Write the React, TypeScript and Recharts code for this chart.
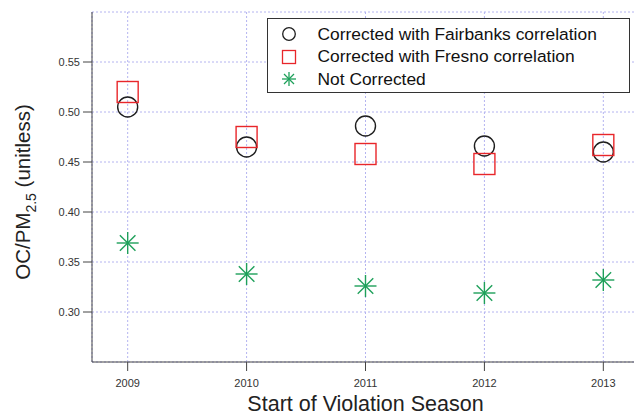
import React from 'react'
import { ScatterChart, Scatter, XAxis, YAxis, CartesianGrid, Legend } from 'recharts'

const years = [2009, 2010, 2011, 2012, 2013]
const fairbanks = [0.505, 0.465, 0.486, 0.466, 0.46]
const fresno = [0.52, 0.475, 0.458, 0.448, 0.467]
const notCorrected = [0.369, 0.338, 0.326, 0.319, 0.332]
const yTicks = [0.3, 0.35, 0.4, 0.45, 0.5, 0.55]

const FONT = '"Liberation Sans", Arial, sans-serif'
const BLACK = '#1e1e1e'
const RED = '#e8262a'
const GREEN = '#1ea05a'

const toPoints = (vals: number[]) => years.map((x, i) => ({ x, y: vals[i] }))

const Circle = (p: any) => (
  <circle cx={p.cx} cy={p.cy} r={10} fill="none" stroke={BLACK} strokeWidth={1.4} />
)
const Square = (p: any) => (
  <rect x={p.cx - 10.5} y={p.cy - 10.5} width={21} height={21} fill="none" stroke={RED} strokeWidth={1.4} />
)
const Star = (p: any) => {
  const r = 11, d = r * 0.707
  return (
    <g stroke={GREEN} strokeWidth={1.4}>
      <line x1={p.cx - r} y1={p.cy} x2={p.cx + r} y2={p.cy} />
      <line x1={p.cx} y1={p.cy - r} x2={p.cx} y2={p.cy + r} />
      <line x1={p.cx - d} y1={p.cy - d} x2={p.cx + d} y2={p.cy + d} />
      <line x1={p.cx - d} y1={p.cy + d} x2={p.cx + d} y2={p.cy - d} />
    </g>
  )
}

const legendRows = [
  { name: 'Corrected with Fairbanks correlation', icon: <circle cx={12} cy={12} r={6.3} fill="none" stroke={BLACK} strokeWidth={1.3} /> },
  { name: 'Corrected with Fresno correlation', icon: <rect x={5.5} y={5.5} width={13} height={13} fill="none" stroke={RED} strokeWidth={1.3} /> },
  {
    name: 'Not Corrected',
    icon: (
      <g stroke={GREEN} strokeWidth={1.3}>
        <line x1={5} y1={12} x2={19} y2={12} />
        <line x1={12} y1={5} x2={12} y2={19} />
        <line x1={7} y1={7} x2={17} y2={17} />
        <line x1={7} y1={17} x2={17} y2={7} />
      </g>
    ),
  },
]

const LegendBox = () => (
  <div style={{ border: '1.5px solid #333', background: '#fff', width: 363, height: 75, boxSizing: 'border-box', padding: '4px 0 0 8.5px', fontFamily: FONT, fontSize: 17.4, color: '#111' }}>
    {legendRows.map(r => (
      <div key={r.name} style={{ display: 'flex', alignItems: 'center', height: 22.5, whiteSpace: 'nowrap' }}>
        <svg width={24} height={24} style={{ marginRight: 17 }}>{r.icon}</svg>
        <span>{r.name}</span>
      </div>
    ))}
  </div>
)

const YLabel = () => (
  <text transform="translate(30,192) rotate(-90)" textAnchor="middle" fontFamily={FONT} fontSize={20.5} fill="#222">
    OC/PM<tspan fontSize={14} dy={6}>2.5</tspan><tspan dy={-6}> (unitless)</tspan>
  </text>
)

const XLabel = (p: any) => {
  const vb = p.viewBox || {}
  return (
    <text x={vb.x + vb.width / 2} y={411} textAnchor="middle" fontFamily={FONT} fontSize={21.5} fill="#222">
      Start of Violation Season
    </text>
  )
}

export default function App() {
  return (
    <div style={{ position: 'fixed', left: 0, top: 0, width: 634, height: 416, overflow: 'hidden', background: '#fff' }}>
      <ScatterChart width={640} height={416} margin={{ top: 12, right: 1, bottom: 0, left: 0 }}>
        <CartesianGrid stroke="#b4b4f0" strokeDasharray="2 2" />
        <XAxis
          type="number" dataKey="x" domain={[2008.7, 2013.3]} ticks={years} height={54}
          stroke="#444" tickSize={9} tickMargin={8} allowDecimals={false}
          tick={{ fontSize: 11, fontFamily: FONT, fill: '#333' }}
          label={<XLabel />}
        />
        <XAxis
          xAxisId="top" orientation="top" type="number" dataKey="x" domain={[2008.7, 2013.3]} ticks={years}
          height={0} stroke="#222" tickSize={8} tick={() => <g />}
        />
        <YAxis
          type="number" dataKey="y" domain={[0.25, 0.6]} ticks={yTicks} width={92}
          stroke="#444" tickSize={9} tickMargin={3}
          tickFormatter={(v: number) => v.toFixed(2)}
          tick={{ fontSize: 11, fontFamily: FONT, fill: '#333' }}
          label={<YLabel />}
        />
        <Legend
          layout="horizontal" verticalAlign="middle" content={<LegendBox />}
          wrapperStyle={{ position: 'absolute', left: 267, top: 18, width: 'auto' }}
        />
        <Scatter name="Corrected with Fairbanks correlation" data={toPoints(fairbanks)} shape={Circle} isAnimationActive={false} />
        <Scatter name="Corrected with Fresno correlation" data={toPoints(fresno)} shape={Square} isAnimationActive={false} />
        <Scatter name="Not Corrected" data={toPoints(notCorrected)} shape={Star} isAnimationActive={false} />
      </ScatterChart>
    </div>
  )
}
